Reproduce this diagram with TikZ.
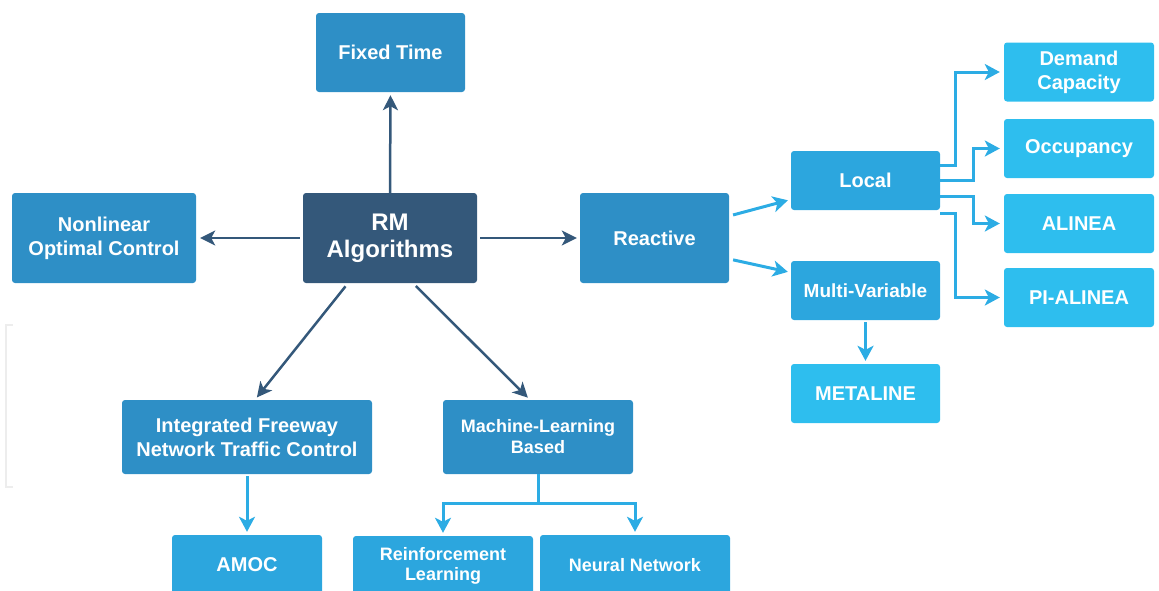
\documentclass[tikz,border=0pt]{standalone}
\usepackage{fontspec}
\setmainfont{Liberation Sans}
\usepackage{tikz}
\definecolor{rmdark}{RGB}{52,88,122}
\definecolor{midblue}{RGB}{46,143,198}
\definecolor{skyblue}{RGB}{44,166,222}
\definecolor{cyanblue}{RGB}{46,190,238}
\definecolor{linkblue}{RGB}{44,172,228}
\usetikzlibrary{arrows.meta}
\usetikzlibrary{positioning}

\begin{document}
\begin{tikzpicture}[x=1pt, y=-1pt,
        box/.style={rectangle, rounded corners=3pt, text=white, align=center, inner sep=0pt,
            font=\bfseries\fontsize{20}{24}\selectfont, minimum width=149pt, minimum height=59pt},
        smallbox/.style={box, font=\bfseries\fontsize{18}{21}\selectfont},
        darkarrow/.style={draw=rmdark, line width=2.5pt, -{Stealth[length=15pt, width=15pt, inset=4pt]}},
        bluearrow/.style={draw=linkblue, line width=3pt, -{Stealth[length=15pt, width=16pt, inset=4pt]}}]
        \useasboundingbox (0,0) rectangle (1159,590);
        \draw[black!7, line width=1.5pt] (13,325) -- (6,325) -- (6,487) -- (13,487);
        \node[box, fill=rmdark, minimum width=174pt, minimum height=90pt,
            font=\bfseries\fontsize{24}{27}\selectfont] (rm) at (390,238) {RM\\Algorithms};
        \node[box, fill=midblue, minimum height=79pt] (fixed) at (390.5,52.5) {Fixed Time};
        \node[box, fill=midblue, minimum width=184pt, minimum height=90pt] (nonlin) at (104,238) {Nonlinear\\Optimal Control};
        \node[box, fill=midblue, minimum height=90pt] (reactive) at (654.5,238) {Reactive};
        \node[box, fill=skyblue] (local) at (865.5,180.5) {Local};
        \node[box, fill=skyblue, font=\bfseries\fontsize{19}{23}\selectfont] (multi) at (865.5,290.5) {Multi-Variable};
        \node[box, fill=cyanblue] (metaline) at (865.5,393.5) {METALINE};
        \node[box, fill=cyanblue, minimum width=150pt] (demand) at (1079,72) {Demand\\Capacity};
        \node[box, fill=cyanblue, minimum width=150pt] (occupancy) at (1079,148.5) {Occupancy};
        \node[box, fill=cyanblue, minimum width=150pt] (alinea) at (1079,223.5) {ALINEA};
        \node[box, fill=cyanblue, minimum width=150pt] (pialinea) at (1079,297.5) {PI-ALINEA};
        \node[box, fill=midblue, minimum width=250pt, minimum height=74pt] (ifntc) at (247,437) {Integrated Freeway\\Network Traffic Control};
        \node[smallbox, fill=midblue, minimum width=190pt, minimum height=74pt] (mlbased) at (538,437) {Machine-Learning\\Based};
        \node[box, fill=skyblue, minimum width=150pt, minimum height=60pt] (amoc) at (247,565) {AMOC};
        \node[smallbox, fill=skyblue, minimum width=180pt, minimum height=60pt,
            font=\bfseries\fontsize{18}{20}\selectfont] (reinf) at (443,566) {Reinforcement\\Learning};
        \node[smallbox, fill=skyblue, minimum width=190pt, minimum height=60pt] (neural) at (635,565) {Neural Network};
        \coordinate (mlsplit) at ([yshift=-29pt]mlbased.south);

        \draw[darkarrow, shorten >=3pt] (rm.north) -- (fixed.south);
        \draw[darkarrow, shorten <=3pt, shorten >=4pt] (rm.west) -- (nonlin.east);
        \draw[darkarrow, shorten <=3pt, shorten >=3pt] (rm.east) -- (reactive.west);
        \draw[darkarrow, shorten <=4pt, shorten >=3pt] ([xshift=-42pt]rm.south) -- ([xshift=8pt]ifntc.north);
        \draw[darkarrow, shorten <=4pt, shorten >=3pt] ([xshift=23pt]rm.south) -- ([xshift=-8pt]mlbased.north);

        \draw[bluearrow, shorten <=4pt, shorten >=3pt] ([yshift=22pt]reactive.east) -- ([yshift=-19pt]local.west);
        \draw[bluearrow, shorten <=4pt, shorten >=3pt] ([yshift=-21pt]reactive.east) -- ([yshift=18pt]multi.west);
        \draw[bluearrow, shorten >=4pt] ([yshift=15.5pt]local.east) -- ++(15,0) |- (demand.west);
        \draw[bluearrow, shorten >=4pt] (local.east) -- ++(33,0) |- (occupancy.west);
        \draw[bluearrow, shorten >=4pt] ([yshift=-15.5pt]local.east) -- ++(33,0) |- (alinea.west);
        \draw[bluearrow, shorten >=4pt] ([yshift=-32.5pt]local.east) -- ++(15,0) |- (pialinea.west);
        \draw[bluearrow, shorten <=2pt, shorten >=3pt] (multi.south) -- (metaline.north);
        \draw[bluearrow, shorten <=2pt, shorten >=3pt] (ifntc.south) -- (amoc.north);
        \draw[bluearrow, shorten >=3pt] (mlbased.south) -- (mlsplit) -| (reinf.north);
        \draw[bluearrow, shorten >=3pt] (mlbased.south) -- (mlsplit) -| (neural.north);
    \end{tikzpicture}
\end{document}
